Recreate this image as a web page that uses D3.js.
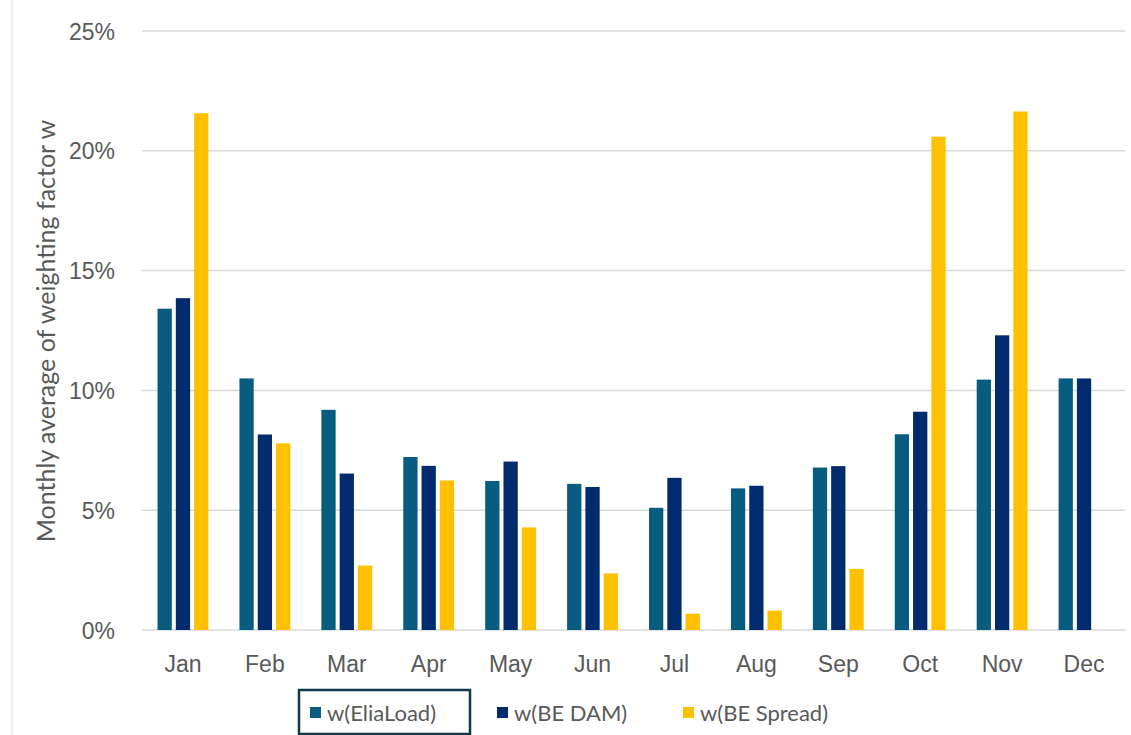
<!DOCTYPE html>
<html>
<head>
<meta charset="utf-8">
<script src="https://cdn.jsdelivr.net/npm/d3@7"></script>
<style>
  body { margin: 0; background: #fff; }
  svg { display: block; font-family: Lato, "Open Sans", sans-serif; }
  .tick text { fill: #595959; }
</style>
</head>
<body>
<div id="container"></div>
<script>
const width = 1131;
const height = 735;

// ---------------------------- DATA ----------------------------//
const months = ["Jan", "Feb", "Mar", "Apr", "May", "Jun", "Jul", "Aug", "Sep", "Oct", "Nov", "Dec"];
const seriesNames = ["w(EliaLoad)", "w(BE DAM)", "w(BE Spread)"];
const eliaLoad = [13.41, 10.50, 9.19, 7.22, 6.22, 6.10, 5.10, 5.91, 6.78, 8.17, 10.45, 10.50];
const beDam = [13.85, 8.16, 6.53, 6.85, 7.03, 5.97, 6.35, 6.02, 6.84, 9.11, 12.30, 10.50];
const beSpread = [21.57, 7.79, 2.69, 6.24, 4.28, 2.36, 0.68, 0.81, 2.55, 20.59, 21.64, null];
const yTicks = [0, 5, 10, 15, 20, 25];
const colors = ["#085C80", "#022B6D", "#FFC000"];

const seriesValues = [eliaLoad, beDam, beSpread];
const rows = months.map((m, i) => ({
  month: m,
  values: seriesNames.map((s, k) => ({ key: s, value: seriesValues[k][i] }))
}));

const svg = d3.select("#container").append("svg")
  .attr("width", width)
  .attr("height", height);

// faint outer frame line at the left
svg.append("line")
  .attr("x1", 12).attr("x2", 12)
  .attr("y1", 0).attr("y2", height)
  .attr("stroke", "#e4eaec").attr("stroke-width", 1.5);

// ---------------------------- SCALES ----------------------------//
const x0 = d3.scaleBand()
  .domain(months)
  .range([142, 1125])
  .paddingInner(0.33)
  .paddingOuter(0.165);

const x1 = d3.scaleBand()
  .domain(seriesNames)
  .range([0, x0.bandwidth()])
  .paddingInner(0.22)
  .paddingOuter(0.11);

const y = d3.scaleLinear()
  .domain([0, 25])
  .range([630, 31]);

const color = d3.scaleOrdinal().domain(seriesNames).range(colors);

// ---------------------------- GRID ----------------------------//
svg.append("g")
  .selectAll("line")
  .data(yTicks)
  .join("line")
  .attr("x1", 142).attr("x2", 1125)
  .attr("y1", d => y(d)).attr("y2", d => y(d))
  .attr("stroke", "#d9d9d9")
  .attr("stroke-width", 1.5);

// ---------------------------- AXES ----------------------------//
const yAxis = svg.append("g")
  .attr("transform", "translate(142,0)")
  .call(d3.axisLeft(y).tickValues(yTicks).tickFormat(d => d + "%").tickSize(0).tickPadding(27));
yAxis.select(".domain").remove();
yAxis.selectAll("text").style("font-size", "23px").attr("dy", "0.35em");

const xAxis = svg.append("g")
  .attr("transform", "translate(0,630)")
  .call(d3.axisBottom(x0).tickSize(0).tickPadding(26));
xAxis.select(".domain").remove();
xAxis.selectAll("text").style("font-size", "23px");

svg.append("text")
  .attr("transform", "translate(55,331) rotate(-90)")
  .attr("text-anchor", "middle")
  .attr("fill", "#595959")
  .style("font-size", "25px")
  .text("Monthly average of weighting factor w");

// ---------------------------- BARS ----------------------------//
const groups = svg.append("g")
  .selectAll("g")
  .data(rows)
  .join("g")
  .attr("transform", d => "translate(" + x0(d.month) + ",0)");

groups.selectAll("rect")
  .data(d => d.values.filter(v => v.value !== null))
  .join("rect")
  .attr("x", d => x1(d.key))
  .attr("width", x1.bandwidth())
  .attr("y", d => y(d.value))
  .attr("height", d => y(0) - y(d.value))
  .attr("fill", d => color(d.key));

// ---------------------------- LEGEND ----------------------------//
const legendX = [310, 497, 683];
const legend = svg.append("g")
  .selectAll("g")
  .data(seriesNames)
  .join("g")
  .attr("transform", (d, i) => "translate(" + legendX[i] + ",713)");

legend.append("rect")
  .attr("x", 0).attr("y", -6)
  .attr("width", 11).attr("height", 11)
  .attr("fill", d => color(d));

legend.append("text")
  .attr("x", 17)
  .attr("dy", "0.35em")
  .attr("fill", "#595959")
  .style("font-size", "22px")
  .text(d => d);

// selection frame around the first legend entry
svg.append("rect")
  .attr("x", 299).attr("y", 690)
  .attr("width", 171).attr("height", 44)
  .attr("fill", "none")
  .attr("stroke", "#12394a")
  .attr("stroke-width", 2.5);
</script>
</body>
</html>
